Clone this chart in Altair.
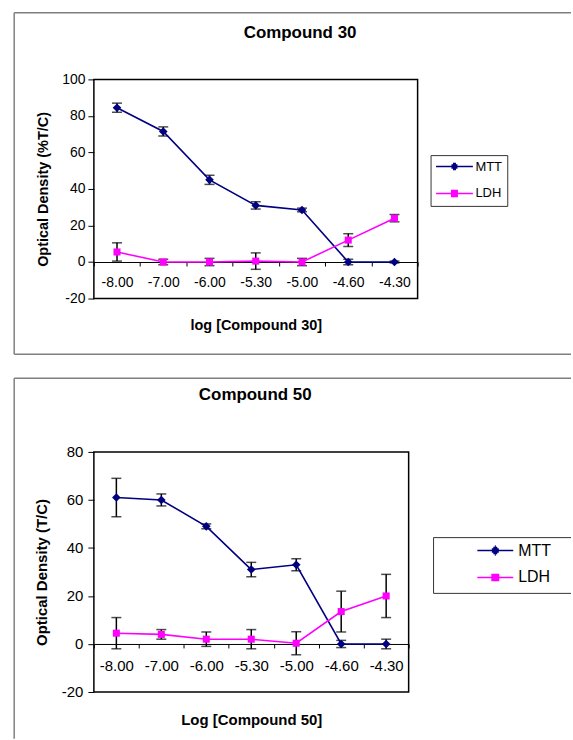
import altair as alt
import pandas as pd

# ---------------- data ----------------
categories = ["-8.00", "-7.00", "-6.00", "-5.30", "-5.00", "-4.60", "-4.30"]
series_names = ["MTT", "LDH"]

c30_mtt = [84.5, 71.5, 45, 31, 28.5, 0, 0]
c30_mtt_err = [2.5, 2.5, 2.5, 2, 1, 1.5, 0.5]
c30_ldh = [5.5, 0, 0, 0.5, 0, 12, 24]
c30_ldh_err = [5, 1.5, 2, 4.5, 2, 3.5, 2]

c50_mtt = [61, 60, 49, 31, 33, 0, 0]
c50_mtt_err = [8, 2.5, 1, 3, 2.5, 1.5, 2]
c50_ldh = [4.5, 4, 2, 2, 0.3, 13.5, 20]
c50_ldh_err = [6.5, 2, 3, 4, 4.8, 8.5, 9]

# ---------------- styles ----------------
FONT = "Liberation Sans"
NAVY = "#000080"
MAGENTA = "#FF00FF"
series_colors = [NAVY, MAGENTA]
FRAME = "#7f7f7f"


def make_df(mtt, mtt_err, ldh, ldh_err):
    rows = []
    for s, vals, errs in (("MTT", mtt, mtt_err), ("LDH", ldh, ldh_err)):
        for i, (c, v, e) in enumerate(zip(categories, vals, errs)):
            rows.append({"conc": c, "idx": i, "series": s, "value": v,
                         "lo": v - e, "hi": v + e})
    return pd.DataFrame(rows)


def fmt(v):
    return f"{v:.4f}".rstrip("0").rstrip(".")


def legend_paths(sym_px, half_len, d_half, s_half, step=1.5):
    """Legend symbol = line with a marker, drawn with strokes only (hatched)."""
    u = sym_px / 2.0

    def seg(x0, x1, y):
        return f"M{fmt(x0 / u)},{fmt(y / u)}L{fmt(x1 / u)},{fmt(y / u)}"

    parts = [seg(-half_len, half_len, 0)]
    k = 1
    while k * step < d_half:
        y = k * step
        h = d_half - y
        parts.append(seg(-h, h, y))
        parts.append(seg(-h, h, -y))
        k += 1
    diamond = "".join(parts)
    parts = [seg(-half_len, half_len, 0)]
    k = 1
    while k * step <= s_half:
        y = k * step
        parts.append(seg(-s_half, s_half, y))
        parts.append(seg(-s_half, s_half, -y))
        k += 1
    square = "".join(parts)
    return [diamond, square]


def frame_rule(x, x2, y, y2, color=FRAME, width=1.5):
    return alt.Chart(alt.Data(values=[{"k": 1}])).mark_rule(
        color=color, strokeWidth=width
    ).encode(x=alt.value(x), x2=alt.value(x2), y=alt.value(y), y2=alt.value(y2))


def panel(df, title, title_dx, title_dy, ytitle, xtitle, ymin, ymax, width, height,
          label_size, title_size, ytitle_x, xtitle_x, xtitle_y, x_label_pad, y_label_pad,
          legend, shape_paths, frames):
    yscale = alt.Scale(domain=[ymin, ymax], nice=False, zero=False)
    xscale = alt.Scale(type="band", paddingInner=0, paddingOuter=0)
    zero_px = height * ymax / (ymax - ymin)
    xaxis = alt.Axis(
        orient="bottom", offset=-(height - zero_px), title=xtitle,
        labelAngle=0, labelFont=FONT, labelFontSize=label_size, labelColor="black",
        labelPadding=x_label_pad, tickBand="extent", tickSize=4, tickColor="black",
        domainColor="black", domainWidth=1, grid=False,
        titleFont=FONT, titleFontSize=title_size, titleFontWeight="bold", titleColor="black",
        titleX=xtitle_x, titleY=xtitle_y, titleAlign="center", titleBaseline="middle",
    )
    yvals = list(range(ymin, ymax + 1, 20))
    yaxis = alt.Axis(
        values=yvals, title=ytitle, grid=False, domain=False,
        labelExpr="'' + datum.value",
        labelFont=FONT, labelFontSize=label_size, labelColor="black",
        labelPadding=y_label_pad, tickSize=6, tickColor="black",
        titleFont=FONT, titleFontSize=title_size, titleFontWeight="bold", titleColor="black",
        titleX=ytitle_x, titleY=height / 2, titleAlign="center", titleBaseline="middle",
        titleAngle=270,
    )
    X = alt.X("conc:N", sort=categories, scale=xscale, axis=xaxis)
    Yv = alt.Y("value:Q", scale=yscale, axis=yaxis)

    base = alt.Chart(df)
    err = base.mark_rule(color="black", strokeWidth=1.5).encode(
        x=X, y=alt.Y("lo:Q", scale=yscale, axis=yaxis), y2="hi:Q")
    cap_lo = base.mark_tick(orient="horizontal", color="black", size=10, thickness=1.5).encode(
        x=X, y=alt.Y("lo:Q", scale=yscale, axis=yaxis))
    cap_hi = base.mark_tick(orient="horizontal", color="black", size=10, thickness=1.5).encode(
        x=X, y=alt.Y("hi:Q", scale=yscale, axis=yaxis))
    layers = list(frames) + [err, cap_lo, cap_hi]
    for name, col in zip(series_names, series_colors):
        layers.append(base.transform_filter(alt.datum.series == name).mark_line(
            strokeWidth=1.6, color=col).encode(x=X, y=Yv, order="idx:Q"))
    for name, col, shp, sz in zip(series_names, series_colors, ["diamond", "square"], [75, 50]):
        layers.append(base.transform_filter(alt.datum.series == name).mark_point(
            shape=shp, filled=True, size=sz, opacity=1, color=col).encode(x=X, y=Yv))
    color_scale = alt.Scale(domain=series_names, range=series_colors)
    driver = base.transform_filter("false").mark_point(
        filled=False, strokeWidth=1.5, opacity=1).encode(
        x=X, y=Yv,
        color=alt.Color("series:N", scale=color_scale, legend=legend),
        shape=alt.Shape("series:N", scale=alt.Scale(domain=series_names, range=shape_paths),
                        legend=legend),
    )
    layers.append(driver)
    return alt.layer(*layers).properties(
        width=width, height=height,
        title=alt.TitleParams(
            text=title, font=FONT, fontSize=17, fontWeight="bold", color="black",
            anchor="middle", frame="group", dx=title_dx, dy=title_dy, offset=0),
    )


df30 = make_df(c30_mtt, c30_mtt_err, c30_ldh, c30_ldh_err)
df50 = make_df(c50_mtt, c50_mtt_err, c50_ldh, c50_ldh_err)

# ---- top panel (plot origin at 93, 77) ----
top_legend = alt.Legend(
    title=None, orient="none", legendX=338, legendY=76, direction="vertical",
    strokeColor="#333333", padding=5, labelFont=FONT, labelFontSize=13, labelColor="black",
    symbolSize=132, symbolStrokeWidth=1.5, rowPadding=13, labelOffset=14.5, symbolOffset=12.5,
)
top_frames = [
    frame_rule(-80, 479, -67, -67),
    frame_rule(-80, -80, -67, 276),
    frame_rule(-80, 479, 276, 276),
]
top = panel(df30, "Compound 30", 44.5, 30, "Optical Density (%T/C)", "log [Compound 30]",
            -20, 100, 325, 220, 14, 14.5, -51, 162.5, 64, 10, 3,
            top_legend, legend_paths(11.5, 18.5, 4.5, 3.5), top_frames)

# ---- bottom panel (plot origin at 93, 451) ----
bot_legend = alt.Legend(
    title=None, orient="none", legendX=384, legendY=90, direction="vertical",
    padding=0, labelFont=FONT, labelFontSize=16, labelColor="black",
    symbolSize=256, symbolStrokeWidth=1.5, rowPadding=10, labelOffset=14, symbolOffset=10,
)
bot_frames = [
    frame_rule(-80, 479, -74, -74),
    frame_rule(-80, -80, -74, 288),
    frame_rule(341, 479, 86, 86, "#333333", 1),
    frame_rule(341, 341, 86, 142, "#333333", 1),
    frame_rule(341, 479, 142, 142, "#333333", 1),
]
bottom = panel(df50, "Compound 50", 4, 27, "Optical Density (T/C)", "Log [Compound 50]",
               -20, 80, 316, 241, 15, 15, -53, 158, 76, 11, 5,
               bot_legend, legend_paths(16, 18, 5, 4), bot_frames)

chart = alt.vconcat(top, bottom, spacing=20).resolve_scale(
    color="independent", shape="independent", x="independent", y="independent"
).resolve_legend(color="independent", shape="independent").properties(
    padding={"left": 12.25, "top": 9.25, "right": 0, "bottom": 0},
    background="white",
).configure_view(stroke="black", strokeWidth=1.5)

chart.save("out.html", embed_options={"renderer": "svg", "actions": False})
